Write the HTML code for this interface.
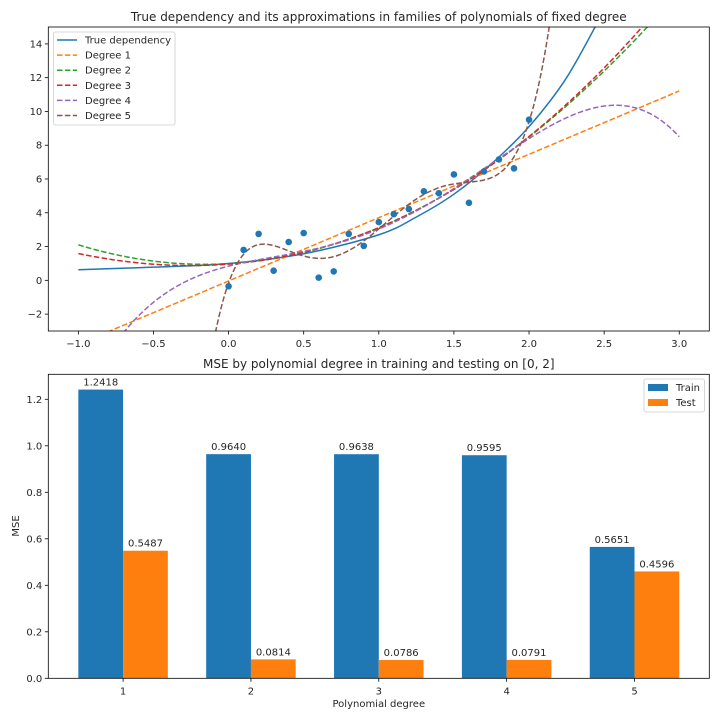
<!DOCTYPE html>
<html><head><meta charset="utf-8">
<style>
html,body{margin:0;padding:0;background:#fff;width:720px;height:720px;overflow:hidden;}
svg{display:block;font-family:"DejaVu Sans","Liberation Sans",sans-serif;}
text{fill:#262626;}
</style></head>
<body>
<svg id="fig" width="720" height="720" viewBox="0 0 720 720">
<defs>
<clipPath id="clipTop"><rect x="48.3" y="27" width="661" height="304"/></clipPath>
</defs>
<rect x="0" y="0" width="720" height="720" fill="#fff"/>
<g id="topChart"></g>
<g id="bottomChart"></g>
</svg>
<script>
// ---------- top chart data ----------
const sampleX = [0,0.1,0.2,0.3,0.4,0.5,0.6,0.7,0.8,0.9,1.0,1.1,1.2,1.3,1.4,1.5,1.6,1.7,1.8,1.9,2.0];
const sampleY = [-0.35,1.8,2.75,0.57,2.27,2.8,0.16,0.53,2.75,2.04,3.45,3.92,4.22,5.27,5.16,6.27,4.59,6.45,7.16,6.63,9.51];
const trueX = [-1,-0.5,0,0.5,1,1.25,1.5,1.75,2,2.25,2.5];
const trueY = [0.63,0.78,1.0,1.57,2.7,3.75,5.1,6.9,9.1,12.0,16.0];
const degrees = [1,2,3,4,5];
const degColors = ['#ff7f0e','#2ca02c','#d62728','#9467bd','#8c564b'];
const xTicksTop = [-1.0,-0.5,0.0,0.5,1.0,1.5,2.0,2.5,3.0];
const yTicksTop = [-2,0,2,4,6,8,10,12,14];
// ---------- bottom chart data ----------
const barCats = [1,2,3,4,5];
const trainMSE = [1.2418,0.9640,0.9638,0.9595,0.5651];
const testMSE = [0.5487,0.0814,0.0786,0.0791,0.4596];
const yTicksBot = [0.0,0.2,0.4,0.6,0.8,1.0,1.2];

const NS='http://www.w3.org/2000/svg';
function mk(tag, attrs, parent, txt){
  const e=document.createElementNS(NS,tag);
  for(const k in attrs) e.setAttribute(k,attrs[k]);
  if(txt!==undefined) e.textContent=txt;
  parent.appendChild(e); return e;
}
const topG=document.getElementById('topChart');
const botG=document.getElementById('bottomChart');

// ---- top axes ----
const tL=48.3,tR=709.3,tT=27,tB=331;
const txMin=-1.2,txMax=3.2,tyMin=-3,tyMax=15;
const tx=v=>tL+(v-txMin)/(txMax-txMin)*(tR-tL);
const ty=v=>tB-(v-tyMin)/(tyMax-tyMin)*(tB-tT);

let t=mk('text',{x:(tL+tR)/2,y:21,'text-anchor':'middle','font-size':12},topG,'True dependency and its approximations in families of polynomials of fixed degree');



xTicksTop.forEach(v=>{
  const l=mk('line',{x1:tx(v),x2:tx(v),y1:tB,y2:tB+3.5,stroke:'#000','stroke-width':0.8},topG);
  
  
  const s=mk('text',{x:tx(v),y:tB+16,'text-anchor':'middle','font-size':10},topG,(v<0?'\u2212':'')+Math.abs(v).toFixed(1));
  
  
});
yTicksTop.forEach(v=>{
  const l=mk('line',{x1:tL-3.5,x2:tL,y1:ty(v),y2:ty(v),stroke:'#000','stroke-width':0.8},topG);
  
  
  const s=mk('text',{x:tL-6,y:ty(v)+3.5,'text-anchor':'end','font-size':10},topG,(v<0?'\u2212':'')+Math.abs(v));
  
  
});

const plot=mk('g',{'clip-path':'url(#clipTop)'},topG);



function smoothPath(xs,ys){
  const p=xs.map((x,i)=>[tx(x),ty(ys[i])]);
  let d='M'+p[0][0]+','+p[0][1];
  for(let i=0;i<p.length-1;i++){
    const p0=p[i-1]||p[i],p1=p[i],p2=p[i+1],p3=p[i+2]||p[i+1];
    const c1=[p1[0]+(p2[0]-p0[0])/6,p1[1]+(p2[1]-p0[1])/6];
    const c2=[p2[0]-(p3[0]-p1[0])/6,p2[1]-(p3[1]-p1[1])/6];
    d+=' C'+c1+' '+c2+' '+p2;
  }
  return d;
}
const trueLine=mk('path',{d:smoothPath(trueX,trueY),fill:'none',stroke:'#1f77b4','stroke-width':1.5},plot);



function polyfit(xs,ys,deg){
  const n=deg+1;
  const A=[];for(let i=0;i<n;i++){A.push(new Array(n+1).fill(0));}
  xs.forEach((x,k)=>{
    for(let i=0;i<n;i++){
      for(let j=0;j<n;j++) A[i][j]+=Math.pow(x,i+j);
      A[i][n]+=ys[k]*Math.pow(x,i);
    }
  });
  for(let c=0;c<n;c++){
    let piv=c;for(let r=c+1;r<n;r++) if(Math.abs(A[r][c])>Math.abs(A[piv][c])) piv=r;
    const tmp=A[c];A[c]=A[piv];A[piv]=tmp;
    for(let r=0;r<n;r++){ if(r===c) continue;
      const f=A[r][c]/A[c][c];
      for(let k=c;k<=n;k++) A[r][k]-=f*A[c][k];
    }
  }
  return A.map((row,i)=>row[n]/row[i]);
}
degrees.forEach((deg,i)=>{
  const co=polyfit(sampleX,sampleY,deg);
  let d='';
  for(let k=0;k<=400;k++){
    const x=-1+4*k/400;
    let y=0;co.forEach((c,j)=>y+=c*Math.pow(x,j));
    y=Math.max(-60,Math.min(80,y));
    d+=(k?'L':'M')+tx(x).toFixed(2)+','+ty(y).toFixed(2);
  }
  const p=mk('path',{d:d,fill:'none',stroke:degColors[i],'stroke-width':1.5,'stroke-dasharray':'5.5,2.4'},plot);
  
  
});
sampleX.forEach((x,i)=>{
  const c=mk('circle',{cx:tx(x),cy:ty(sampleY[i]),r:3.3,fill:'#1f77b4'},plot);
  
  
});
const fr=mk('rect',{x:tL,y:tT,width:tR-tL,height:tB-tT,fill:'none',stroke:'#000','stroke-width':0.8},topG);



const lg=mk('g',{},topG);


mk('rect',{x:53.5,y:32,width:121.5,height:93,rx:2,fill:'#fff','fill-opacity':0.8,stroke:'#ccc','stroke-width':0.8},lg);
const legLabels=['True dependency','Degree 1','Degree 2','Degree 3','Degree 4','Degree 5'];
const legColors=['#1f77b4'].concat(degColors);
legLabels.forEach((lab,i)=>{
  const y=40+i*15.1;
  const e=mk('g',{},lg);
  
  
  mk('line',{x1:57,x2:77,y1:y,y2:y,stroke:legColors[i],'stroke-width':1.5,'stroke-dasharray':i?'5.5,2.4':'none'},e);
  mk('text',{x:85,y:y+3.5,'font-size':10},e,lab);
});

// ---- bottom axes ----
const bL=48.3,bR=709.3,bT=374.3,bB=678.3;
const bxMin=0.415,bxMax=5.585,byMin=0,byMax=1.3075;
const bx=v=>bL+(v-bxMin)/(bxMax-bxMin)*(bR-bL);
const by=v=>bB-(v-byMin)/(byMax-byMin)*(bB-bT);
const W=0.35;

t=mk('text',{x:(bL+bR)/2,y:368,'text-anchor':'middle','font-size':12},botG,'MSE by polynomial degree in training and testing on [0, 2]');



barCats.forEach((c,i)=>{
  [[trainMSE,-W,'#1f77b4','train'],[testMSE,0,'#ff7f0e','test']].forEach(([arr,off,col,nm])=>{
    const v=arr[i];
    const r=mk('rect',{x:bx(c+off),y:by(v),width:bx(c+off+W)-bx(c+off),height:by(0)-by(v),fill:col},botG);
    
    
    const s=mk('text',{x:bx(c+off+W/2),y:by(v)-4,'text-anchor':'middle','font-size':10},botG,v.toFixed(4));
    
    
  });
  const l=mk('line',{x1:bx(c),x2:bx(c),y1:bB,y2:bB+3.5,stroke:'#000','stroke-width':0.8},botG);
  
  
  const s=mk('text',{x:bx(c),y:bB+16,'text-anchor':'middle','font-size':10},botG,String(c));
  
  
});
yTicksBot.forEach(v=>{
  const l=mk('line',{x1:bL-3.5,x2:bL,y1:by(v),y2:by(v),stroke:'#000','stroke-width':0.8},botG);
  
  
  const s=mk('text',{x:bL-6,y:by(v)+3.5,'text-anchor':'end','font-size':10},botG,v.toFixed(1));
  
  
});
const fr2=mk('rect',{x:bL,y:bT,width:bR-bL,height:bB-bT,fill:'none',stroke:'#000','stroke-width':0.8},botG);


t=mk('text',{x:(bL+bR)/2,y:707,'text-anchor':'middle','font-size':10},botG,'Polynomial degree');


t=mk('text',{x:0,y:0,'text-anchor':'middle','font-size':10,transform:'translate(19,526) rotate(-90)'},botG,'MSE');



const lg2=mk('g',{},botG);


mk('rect',{x:644,y:379,width:60.5,height:33,rx:2,fill:'#fff','fill-opacity':0.8,stroke:'#ccc','stroke-width':0.8},lg2);
[['Train','#1f77b4'],['Test','#ff7f0e']].forEach(([lab,col],i)=>{
  const e=mk('g',{},lg2);
  
  
  mk('rect',{x:648,y:384+i*15,width:20,height:7,fill:col},e);
  mk('text',{x:676,y:391+i*15,'font-size':10},e,lab);
});
</script>
</body></html>
